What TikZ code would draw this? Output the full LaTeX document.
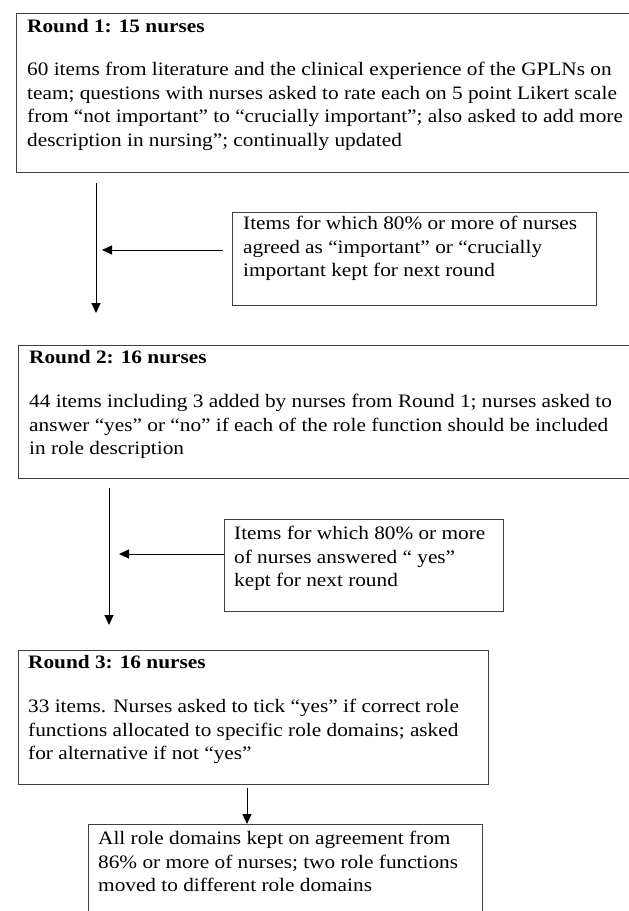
\documentclass[tikz,border=0pt]{standalone}
\usepackage{fontspec}
\setmainfont{Liberation Serif}[FakeStretch=1.12]
\usetikzlibrary{arrows.meta}
\newcommand\mystrut{\rule{0pt}{15pt}}
\tikzset{
  box/.style={draw=black!75, line width=1.1pt, inner sep=0pt, anchor=north west},
  txt/.style={inner sep=0pt, anchor=north west, align=left, font=\fontsize{19}{23.8}\selectfont},
  ttl/.style={inner sep=0pt, anchor=base west, font=\fontsize{19}{23.8}\selectfont\bfseries},
  arr/.style={-{Triangle[width=9pt,length=10pt]}, line width=1pt, draw=black},
}
\begin{document}
\begin{tikzpicture}[x=1pt, y=-1pt]
\useasboundingbox (0,0) rectangle (629,911);
\clip (0,0) rectangle (629,911);
\fill[white] (0,0) rectangle (629,911);

% Round 1
\node[box, minimum width=624pt, minimum height=159pt] (b1) at (16,13) {};
\node[ttl] (t1) at (27,32) {Round 1: 15 nurses};
\node[txt] (d1) at (27,60) {\mystrut 60 items from literature and the clinical experience of the GPLNs on\\
team; questions with nurses asked to rate each on 5 point Likert scale\\
from “not important” to “crucially important”; also asked to add more\\
description in nursing”; continually updated};

% arrow 1 and side box 1
\coordinate (a1s) at (96,183);
\coordinate (a1e) at (96,313);
\draw[arr] (a1s) -- (a1e);
\node[box, minimum width=364pt, minimum height=93pt] (s1) at (232,212) {};
\node[txt] (e1) at (243,214) {\mystrut Items for which 80\% or more of nurses\\
agreed as “important” or “crucially\\
important kept for next round};
\coordinate (h1) at (102,250);
\draw[arr] ([xshift=-9pt]s1.west |- h1) -- (h1);

% Round 2
\node[box, minimum width=622pt, minimum height=133pt] (b2) at (18,345) {};
\node[ttl] (t2) at (29,363) {Round 2: 16 nurses};
\node[txt] (d2) at (29,392) {\mystrut 44 items including 3 added by nurses from Round 1; nurses asked to\\
answer “yes” or “no” if each of the role function should be included\\
in role description};

% arrow 2 and side box 2
\coordinate (a2s) at (109,488);
\coordinate (a2e) at (109,625);
\draw[arr] (a2s) -- (a2e);
\node[box, minimum width=279pt, minimum height=92pt] (s2) at (224,519) {};
\node[txt] (e2) at (234,524) {\mystrut Items for which 80\% or more\\
of nurses answered “ yes”\\
kept for next round};
\coordinate (h2) at (119,554);
\draw[arr] (s2.west |- h2) -- (h2);

% Round 3
\node[box, minimum width=470pt, minimum height=134pt] (b3) at (18,650) {};
\node[ttl] (t3) at (28,668) {Round 3: 16 nurses};
\node[txt] (d3) at (28,697) {\mystrut 33 items. Nurses asked to tick “yes” if correct role\\
functions allocated to specific role domains; asked\\
for alternative if not “yes”};

% final box
\node[box, minimum width=394pt, minimum height=120pt] (b4) at (88,824) {};
\node[txt] (d4) at (98,829) {\mystrut All role domains kept on agreement from\\
86\% or more of nurses; two role functions\\
moved to different role domains};
\coordinate (a3s) at (247,788);
\draw[arr] (a3s) -- (a3s |- b4.north);
\end{tikzpicture}
\end{document}
